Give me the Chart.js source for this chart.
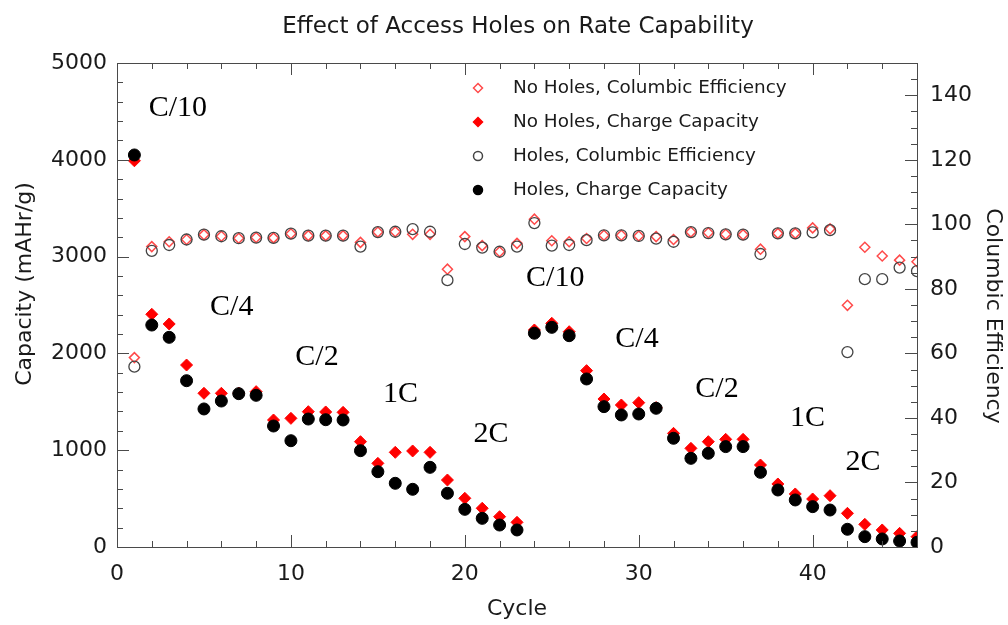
<!DOCTYPE html>
<html>
<head>
<meta charset="utf-8">
<title>Effect of Access Holes on Rate Capability</title>
<script src="https://cdn.jsdelivr.net/npm/chart.js@4.4.0/dist/chart.umd.min.js"></script>
<style>
	body { margin: 0; background: #fff; }
	#rateChart { display: block; }
</style>
</head>
<body>
<canvas id="rateChart" width="1008" height="625"></canvas>
<script>
// Data
// --------------------------------------------------------------------
const cycles = [1, 2, 3, 4, 5, 6, 7, 8, 9, 10, 11, 12, 13, 14, 15, 16, 17, 18, 19, 20, 21, 22, 23,
	24, 25, 26, 27, 28, 29, 30, 31, 32, 33, 34, 35, 36, 37, 38, 39, 40, 41, 42, 43, 44, 45, 46];

const noHolesEfficiency = [58.7, 93.1, 94.6, 95.3, 96.8, 96.3, 95.7, 95.9, 95.8, 97.1, 96.5, 96.5, 96.5,
	94.4, 97.6, 97.7, 96.9, 96.9, 86.1, 96.2, 93.4, 91.5, 94.1, 101.6, 94.9, 94.6, 95.6, 96.6, 96.6,
	96.4, 96.2, 95.3, 97.6, 97.4, 96.9, 96.8, 92.3, 97.2, 97.2, 98.9, 98.6, 74.9, 92.9, 90.2, 88.9, 88.4];

const noHolesCapacity = [3990, 2404, 2304, 1880, 1588, 1588, 1590, 1605, 1312, 1329, 1398, 1395, 1391,
	1088, 864, 978, 992, 978, 692, 503, 400, 313, 255, 2242, 2311, 2224, 1822, 1529, 1467, 1491, 1440,
	1174, 1019, 1088, 1112, 1112, 847, 651, 548, 496, 530, 348, 234, 176, 141, 107];

const holesEfficiency = [55.9, 91.8, 93.6, 95.3, 96.8, 96.3, 95.7, 95.9, 95.8, 97.1, 96.5, 96.5, 96.5,
	93.1, 97.6, 97.7, 98.5, 97.7, 82.7, 93.9, 92.8, 91.5, 93.1, 100.4, 93.4, 93.6, 95.1, 96.6, 96.6,
	96.4, 95.6, 94.6, 97.6, 97.3, 96.9, 96.8, 90.8, 97.2, 97.2, 97.5, 98.2, 60.4, 83.0, 83.0, 86.6, 85.5];

const holesCapacity = [4050, 2293, 2166, 1718, 1426, 1508, 1584, 1567, 1250, 1098, 1322, 1315, 1312,
	995, 778, 658, 596, 823, 555, 389, 296, 227, 176, 2208, 2269, 2183, 1736, 1450, 1364, 1374, 1433,
	1123, 916, 968, 1037, 1037, 771, 589, 486, 417, 382, 183, 107, 83, 62, 48];

const seriesNames = ['No Holes, Columbic Efficiency', 'No Holes, Charge Capacity',
	'Holes, Columbic Efficiency', 'Holes, Charge Capacity'];

// C-rate labels and where they sit (cycle, capacity)
const rateLabels = ['C/10', 'C/4', 'C/2', '1C', '2C', 'C/10', 'C/4', 'C/2', '1C', '2C'];
const rateCycle = [3.5, 6.6, 11.5, 16.3, 21.5, 25.2, 29.9, 34.5, 39.7, 42.9];
const rateCapacity = [4535, 2480, 1965, 1580, 1165, 2780, 2150, 1630, 1335, 880];

document.addEventListener('DOMContentLoaded', function() {
	// Colors / fonts
	const redColor = '#ff0000',
		redLightColor = '#ff4a4a',
		blackColor = '#000000',
		greyColor = '#444444',
		frameColor = '#4a4a4a',
		textColor = '#1a1a1a';
	const sansFont = '"DejaVu Sans", Verdana, sans-serif';

	function toPoints(ys) {
		return cycles.map(function(c, i) {
			return { x: c, y: ys[i] };
		});
	}

	function plainLabel(value) {
		return String(value);
	}

	// Title and the two vertical axis titles
	// --------------------------------------------------------------------
	const textPlugin = {
		id: 'texts',
		afterDraw: function(chart) {
			const ctx = chart.ctx;
			ctx.save();
			ctx.fillStyle = textColor;
			ctx.textAlign = 'center';
			ctx.textBaseline = 'middle';
			ctx.font = '23px ' + sansFont;
			ctx.fillText('Effect of Access Holes on Rate Capability', 518, 27);

			ctx.font = '22px ' + sansFont;
			ctx.save();
			ctx.translate(25, 284);
			ctx.rotate(-Math.PI / 2);
			ctx.fillText('Capacity (mAHr/g)', 0, 0);
			ctx.restore();

			ctx.save();
			ctx.translate(993, 316);
			ctx.rotate(Math.PI / 2);
			ctx.fillText('Columbic Efficiency', 0, 0);
			ctx.restore();
			ctx.restore();
		}
	};

	// Frame with inward ticks on all four sides
	// --------------------------------------------------------------------
	const framePlugin = {
		id: 'frame',
		afterDraw: function(chart) {
			const ctx = chart.ctx;
			const a = chart.chartArea;
			const xs = chart.scales.x, ys = chart.scales.y, y1 = chart.scales.y1;
			ctx.save();
			ctx.strokeStyle = frameColor;
			ctx.lineWidth = 1;
			ctx.beginPath();
			let v, p, len;
			for (v = 0; v <= 5000; v += 200) {
				p = Math.round(ys.getPixelForValue(v)) + 0.5;
				len = v % 1000 === 0 ? 12 : 6;
				ctx.moveTo(a.left, p); ctx.lineTo(a.left + len, p);
			}
			for (v = 0; v <= 150; v += 5) {
				p = Math.round(y1.getPixelForValue(v)) + 0.5;
				len = v % 20 === 0 ? 12 : 6;
				ctx.moveTo(a.right, p); ctx.lineTo(a.right - len, p);
			}
			for (v = 0; v <= 46; v += 2) {
				p = Math.round(xs.getPixelForValue(v)) + 0.5;
				len = v % 10 === 0 ? 12 : 6;
				ctx.moveTo(p, a.bottom); ctx.lineTo(p, a.bottom - len);
				ctx.moveTo(p, a.top); ctx.lineTo(p, a.top + len);
			}
			ctx.stroke();
			ctx.strokeRect(Math.round(a.left) + 0.5, Math.round(a.top) + 0.5,
				Math.round(a.right - a.left), Math.round(a.bottom - a.top));
			ctx.restore();
		}
	};

	// Rate labels (C/10, C/4 ...)
	// --------------------------------------------------------------------
	const ratePlugin = {
		id: 'rates',
		afterDatasetsDraw: function(chart) {
			const ctx = chart.ctx;
			ctx.save();
			ctx.font = '30px "Liberation Serif", "Times New Roman", serif';
			ctx.fillStyle = blackColor;
			ctx.textAlign = 'center';
			ctx.textBaseline = 'middle';
			rateLabels.forEach(function(t, i) {
				ctx.fillText(t, chart.scales.x.getPixelForValue(rateCycle[i]),
					chart.scales.y.getPixelForValue(rateCapacity[i]));
			});
			ctx.restore();
		}
	};

	// Legend inside the plot
	// --------------------------------------------------------------------
	const legendPlugin = {
		id: 'insideLegend',
		afterDraw: function(chart) {
			const ctx = chart.ctx;
			const a = chart.chartArea;
			const mx = a.left + 361, tx = a.left + 396;
			ctx.save();
			ctx.font = '18.4px ' + sansFont;
			ctx.textBaseline = 'middle';
			chart.data.datasets.forEach(function(ds, i) {
				const my = a.top + 25 + i * 34;
				ctx.beginPath();
				if (ds.pointStyle === 'rectRot') {
					ctx.moveTo(mx, my - 4.5); ctx.lineTo(mx + 4.5, my);
					ctx.lineTo(mx, my + 4.5); ctx.lineTo(mx - 4.5, my);
					ctx.closePath();
				} else {
					ctx.arc(mx, my, 4.5, 0, Math.PI * 2);
				}
				if (ds.pointBackgroundColor !== 'transparent') {
					ctx.fillStyle = ds.pointBackgroundColor;
					ctx.fill();
				}
				ctx.lineWidth = 1.5;
				ctx.strokeStyle = ds.pointBorderColor;
				ctx.stroke();
				ctx.fillStyle = textColor;
				ctx.fillText(ds.label, tx, my);
			});
			ctx.restore();
		}
	};

	const rateChart = document.getElementById('rateChart');
	if (rateChart) {
		const rateChartVar = new Chart(rateChart, {
			type: 'scatter',
			data: {
				datasets: [
					{
						label: seriesNames[0],
						data: toPoints(noHolesEfficiency),
						yAxisID: 'y1',
						pointStyle: 'rectRot',
						pointRadius: 5,
						pointBackgroundColor: 'transparent',
						pointBorderColor: redLightColor,
						pointBorderWidth: 1.5,
						clip: 0,
						order: 3
					},
					{
						label: seriesNames[1],
						data: toPoints(noHolesCapacity),
						yAxisID: 'y',
						pointStyle: 'rectRot',
						pointRadius: 6,
						pointBackgroundColor: redColor,
						pointBorderColor: redColor,
						pointBorderWidth: 1,
						clip: 0,
						order: 2
					},
					{
						label: seriesNames[2],
						data: toPoints(holesEfficiency),
						yAxisID: 'y1',
						pointStyle: 'circle',
						pointRadius: 5.5,
						pointBackgroundColor: 'transparent',
						pointBorderColor: greyColor,
						pointBorderWidth: 1.3,
						clip: 0,
						order: 1
					},
					{
						label: seriesNames[3],
						data: toPoints(holesCapacity),
						yAxisID: 'y',
						pointStyle: 'circle',
						pointRadius: 6,
						pointBackgroundColor: blackColor,
						pointBorderColor: blackColor,
						pointBorderWidth: 1,
						clip: 0,
						order: 0
					}
				]
			},
			options: {
				responsive: false,
				animation: false,
				events: [],
				layout: { padding: { top: 63, left: 0, right: 0, bottom: 0 } },
				plugins: {
					legend: { display: false },
					tooltip: { enabled: false },
					title: { display: false }
				},
				scales: {
					x: {
						type: 'linear',
						position: 'bottom',
						min: 0,
						max: 46,
						afterBuildTicks: function(scale) {
							scale.ticks = scale.ticks.filter(function(t) { return t.value % 10 === 0; });
						},
						afterFit: function(scale) { scale.height = 78; },
						grid: { display: false, drawTicks: false },
						border: { display: false },
						ticks: {
							stepSize: 10,
							padding: 14,
							color: textColor,
							font: { family: sansFont, size: 22 },
							callback: plainLabel
						},
						title: {
							display: true,
							text: 'Cycle',
							color: textColor,
							font: { family: sansFont, size: 22 },
							padding: { top: 0, bottom: 3 }
						}
					},
					y: {
						position: 'left',
						min: 0,
						max: 5000,
						afterFit: function(scale) { scale.width = 117; },
						grid: { display: false, drawTicks: false },
						border: { display: false },
						ticks: {
							stepSize: 1000,
							padding: 10,
							color: textColor,
							font: { family: sansFont, size: 22 },
							callback: plainLabel
						}
					},
					y1: {
						position: 'right',
						min: 0,
						max: 150,
						afterBuildTicks: function(scale) {
							scale.ticks = scale.ticks.filter(function(t) { return t.value % 20 === 0; });
						},
						afterFit: function(scale) { scale.width = 91; },
						grid: { display: false, drawTicks: false },
						border: { display: false },
						ticks: {
							stepSize: 20,
							padding: 13,
							color: textColor,
							font: { family: sansFont, size: 22 },
							callback: plainLabel
						}
					}
				}
			},
			plugins: [ratePlugin, framePlugin, legendPlugin, textPlugin]
		});
	}
});
</script>
</body>
</html>
